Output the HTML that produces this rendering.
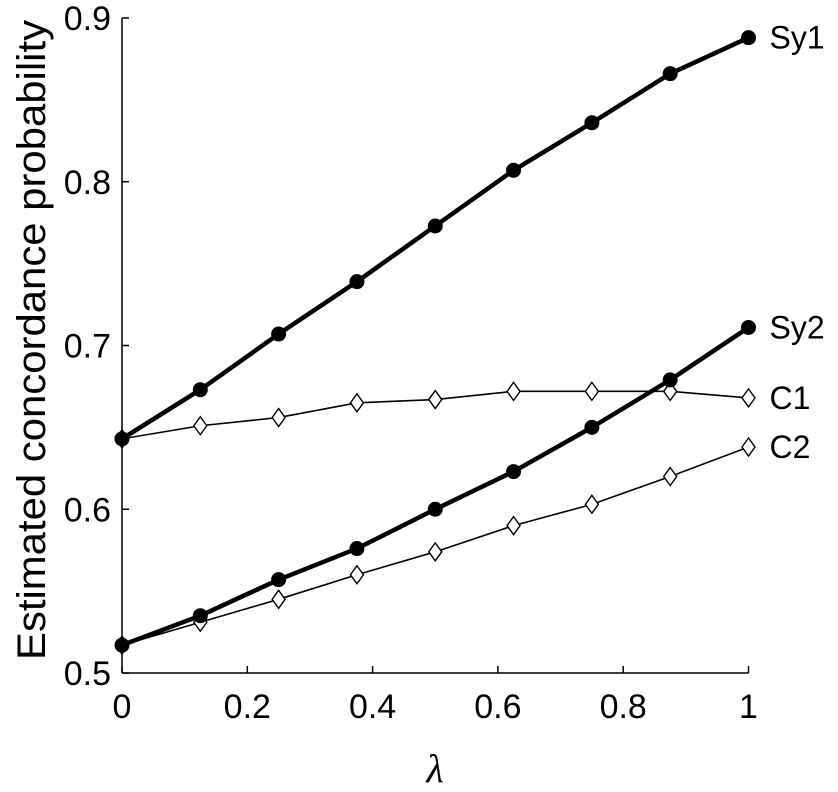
<!DOCTYPE html>
<html><head><meta charset="utf-8"><style>
body{margin:0;background:#fff;}
svg text{font-family:"Liberation Sans",Arial,sans-serif;fill:#000;}
</style></head><body>
<svg id="chart" width="838" height="787" viewBox="0 0 838 787" xmlns="http://www.w3.org/2000/svg">
<g id="axes"></g>
<g id="series"></g>
<text transform="translate(45,340) rotate(-90)" text-anchor="middle" font-size="40" textLength="640" lengthAdjust="spacingAndGlyphs">Estimated concordance probability</text>
<text x="435" y="782" text-anchor="middle" font-size="40" font-style="italic" style="font-family:'Liberation Serif',serif">λ</text>
</svg>
<script>
const lambdas=[0,0.125,0.25,0.375,0.5,0.625,0.75,0.875,1];
const sy1=[0.643,0.673,0.707,0.739,0.773,0.807,0.836,0.866,0.888];
const sy2=[0.517,0.535,0.557,0.576,0.600,0.623,0.650,0.679,0.711];
const c1=[0.643,0.651,0.656,0.665,0.667,0.672,0.672,0.672,0.668];
const c2=[0.517,0.531,0.545,0.560,0.574,0.590,0.603,0.620,0.638];
const xTicks=[0,0.2,0.4,0.6,0.8,1];
const xTickLabels=["0","0.2","0.4","0.6","0.8","1"];
const yTicks=[0.5,0.6,0.7,0.8,0.9];
const yTickLabels=["0.5","0.6","0.7","0.8","0.9"];
const NS="http://www.w3.org/2000/svg";
const X0=122,X1=748.5,Y0=673,Y1=18,VMIN=0.5,VMAX=0.9;
function xs(v){return X0+(X1-X0)*v;}
function ys(v){return Y0-(Y0-Y1)*(v-VMIN)/(VMAX-VMIN);}
function mk(tag,attrs,parent){const e=document.createElementNS(NS,tag);for(const k in attrs)e.setAttribute(k,attrs[k]);parent.appendChild(e);return e;}
const axes=document.getElementById('axes');
let yl=mk('line',{x1:X0,y1:Y1,x2:X0,y2:Y0,stroke:'#000','stroke-width':1.5},axes);


let xl=mk('line',{x1:X0,y1:Y0,x2:X1,y2:Y0,stroke:'#000','stroke-width':1.5},axes);


xTicks.forEach((t,i)=>{
 const tk=mk('line',{x1:xs(t),y1:Y0,x2:xs(t),y2:Y0-7,stroke:'#000','stroke-width':1.5},axes);
 
 
 const tx=mk('text',{x:xs(t),y:Y0+45,'text-anchor':'middle','font-size':34},axes);
 tx.textContent=xTickLabels[i];
 
 
});
yTicks.forEach((t,i)=>{
 const tk=mk('line',{x1:X0,y1:ys(t),x2:X0+7,y2:ys(t),stroke:'#000','stroke-width':1.5},axes);
 
 
 const tx=mk('text',{x:X0-11,y:ys(t)+12,'text-anchor':'end','font-size':34},axes);
 tx.textContent=yTickLabels[i];
 
 
});
const sg=document.getElementById('series');
function draw(vals,name,label,thick,marker){
 const pts=vals.map((v,i)=>xs(lambdas[i])+','+ys(v)).join(' ');
 const pl=mk('polyline',{points:pts,fill:'none',stroke:'#000','stroke-width':thick?4.5:1.6,'stroke-linejoin':'round'},sg);
 
 
 vals.forEach((v,i)=>{
  const x=xs(lambdas[i]),y=ys(v);
  let m;
  if(marker==='circle'){m=mk('circle',{cx:x,cy:y,r:7.5,fill:'#000'},sg);}
  else{m=mk('polygon',{points:`${x},${y-9} ${x+6.5},${y} ${x},${y+9} ${x-6.5},${y}`,fill:'#fff',stroke:'#000','stroke-width':1.4},sg);}
  
  
 });
 const lab=mk('text',{x:X1+21,y:ys(vals[vals.length-1])+11,'font-size':32},sg);
 lab.textContent=label;
 
 
}
draw(c1,'c1','C1',false,'diamond');
draw(c2,'c2','C2',false,'diamond');
draw(sy1,'sy1','Sy1',true,'circle');
draw(sy2,'sy2','Sy2',true,'circle');
</script>
</body></html>
